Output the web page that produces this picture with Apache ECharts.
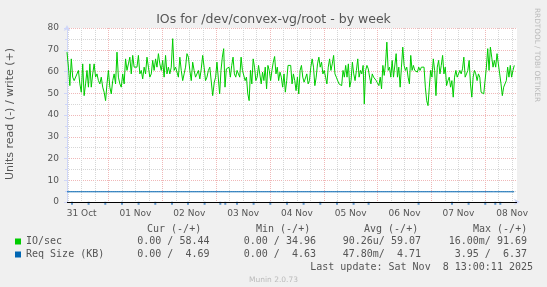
<!DOCTYPE html>
<html><head><meta charset="utf-8">
<script src="https://cdn.jsdelivr.net/npm/echarts@6/dist/echarts.min.js"></script>
<style>html,body{margin:0;padding:0;background:#F0F0F0}#c{width:547px;height:287px}</style>
</head><body><div id="c"></div>
<script>
// ---- data (hours since 31 Oct 00:00) ----
const X_MIN = 5.45, X_MAX = 206.15;
const dayLabels = ['31 Oct','01 Nov','02 Nov','03 Nov','04 Nov','05 Nov','06 Nov','07 Nov','08 Nov'];
const labelHours = [12,36,60,84,108,132,156,180,204];
const midnightHours = [24,48,72,96,120,144,168,192];
const minorGridHours = [6,12,18,24,30,36,42,48,54,60,66,72,78,84,90,96,102,108,114,120,126,132,138,144,150,156,162,168,174,180,186,192,198,204];

// IO/sec write, three stretches with their start hour and sample step
const segStart = [5.45, 71.14, 138.04];
const segStep = [0.637, 0.598, 0.592];
const ioWriteA = [68.9,62.0,53.5,65.8,57.4,55.8,55.4,58.9,60.5,54.3,50.5,63.5,48.9,54.3,60.5,52.8,63.5,52.8,58.9,63.5,57.4,58.9,55.8,54.3,57.4,52.8,50.5,46.6,54.3,60.5,52.8,49.7,55.8,58.9,54.3,68.9,57.4,54.3,52.8,58.9,54.3,65.8,60.5,63.5,66.6,58.9,67.4,62.0,62.8,62.0,67.4,58.9,60.5,56.6,62.0,58.9,66.6,62.0,57.4,58.9,65.1,60.5,65.8,62.0,68.2,63.5,60.5,65.1,57.4,67.4,58.9,62.0,58.9,62.0,75.1,60.5,62.0,62.8,57.4,66.6,60.5,55.8,58.9,62.0,68.2,66.6,60.5,55.8,64.3,60.5,57.4,58.9,60.5,56.6,61.2,67.4,62.0,55.8,57.4,60.5,62.0,61.2,48.9];
const ioWriteB = [55.1,57.4,64.3,64.3,49.7,60.5,66.6,70.5,52.8,61.2,60.5,62.0,57.4,62.8,66.6,58.9,57.4,60.5,58.9,57.4,66.6,60.5,61.2,55.8,57.4,49.7,46.6,60.5,54.3,65.8,62.0,55.8,57.4,62.8,62.0,54.3,59.7,55.8,62.0,52.0,62.8,60.5,55.8,60.5,64.3,66.9,58.9,62.0,55.8,59.7,57.4,52.8,58.9,50.5,55.8,62.8,62.8,62.8,54.3,58.9,55.8,51.2,57.4,49.7,60.5,62.8,57.4,55.1,55.8,58.9,54.3,55.8,62.0,65.8,62.0,53.5,57.4,63.5,66.6,62.0,64.3,58.9,60.5,57.4,54.3,62.0,65.8,60.5,63.5,67.4,58.9,57.4,58.2,54.3,53.5,53.5,60.5,57.4,62.8,57.4,63.5,52.8,55.8,64.3,58.9,55.8,60.5,65.8,57.4,60.5,58.9,62.8];
const ioWriteC = [45.1,60.5,62.8,61.2,57.4,54.3,58.9,57.4,57.4,55.8,56.6,53.5,57.4,52.0,62.8,58.2,63.5,73.5,60.5,62.0,57.4,65.1,57.4,56.6,68.2,57.4,62.0,52.8,62.0,71.2,62.8,60.5,62.0,57.4,54.3,67.4,60.5,62.8,60.5,61.2,59.7,62.0,60.5,62.0,62.8,62.0,52.8,46.6,44.3,52.8,60.5,57.4,65.8,60.5,48.9,62.0,65.1,58.9,62.8,67.4,58.9,62.0,53.5,55.8,57.4,52.8,55.8,48.2,57.4,60.5,57.4,58.9,60.5,58.9,61.2,66.6,57.4,58.9,60.5,65.1,54.3,48.2,57.4,60.5,58.9,55.8,58.9,57.4,50.5,49.7,49.7,50.5,62.0,70.5,60.5,71.2,66.6,62.0,65.1,62.0,68.2,63.5,58.9,54.3,48.9,52.8,52.8,55.8,62.0,57.4,62.8,57.4,60.5,62.8];

// Req Size (KB) write
const reqWriteHours = [5.45, 99.0, 99.8, 100.6, 171.9, 172.7, 173.5, 195.7, 196.5, 197.3, 204.9];
const reqWriteVals  = [4.70, 4.70, 5.25, 4.70, 4.70, 5.20, 4.70, 4.70, 5.30, 4.70, 4.69];
// Req Size (KB) read (negative side) small spikes
const reqReadHours = [7.68,15.08,22.53,29.98,37.38,44.83,52.28,59.41,66.82,73.82,76.05,81.27,88.67,96.12,103.57,110.97,118.42,125.87,133.27,139.96,162.26,177.16,184.56,192.0,196.47,198.7];
const reqReadVals = reqReadHours.map(() => -0.6);

const statHeaders = ['Cur (-/+)','Min (-/+)','Avg (-/+)','Max (-/+)'];
const ioStats  = ['0.00 / 58.44','0.00 / 34.96','90.26u/ 59.07','16.00m/ 91.69'];
const reqStats = ['0.00 /  4.69','0.00 /  4.63','47.80m/  4.71','3.95 /  6.37'];
const lastUpdate = 'Last update: Sat Nov  8 13:00:11 2025';

// ---- build ----
const ioData = [];
[ioWriteA, ioWriteB, ioWriteC].forEach((arr, s) => arr.forEach((v, i) => ioData.push([segStart[s] + i * segStep[s], v])));
const reqWriteData = reqWriteHours.map((h, i) => [h, reqWriteVals[i]]);
const reqReadData = reqReadHours.map((h, i) => [h, reqReadVals[i]]);

const FONT = '#555555';
const AXIS = '#CFD6F8';
const MONO = '"DejaVu Sans Mono", monospace';
const SANS = '"DejaVu Sans", sans-serif';
const MGRID = '#F0B8B8';
const GRID = '#D6D6D6';

const headerX = [147, 256, 364, 473];
const valueRight = [209.5, 316, 421, 527];
const graphics = [];
statHeaders.forEach((t, i) => graphics.push({type:'text', x: headerX[i], y: 229.5, style:{text:t, font:'10px '+MONO, fill:FONT, align:'left', verticalAlign:'middle'}}));
ioStats.forEach((t, i) => graphics.push({type:'text', x: valueRight[i], y: 241.7, style:{text:t, font:'10px '+MONO, fill:FONT, align:'right', verticalAlign:'middle'}}));
reqStats.forEach((t, i) => graphics.push({type:'text', x: valueRight[i], y: 254.7, style:{text:t, font:'10px '+MONO, fill:FONT, align:'right', verticalAlign:'middle'}}));
graphics.push({type:'text', x: 533, y: 267.2, style:{text:lastUpdate, font:'10px '+MONO, fill:FONT, align:'right', verticalAlign:'middle'}});
graphics.push({type:'text', x: 273.5, y: 280, style:{text:'Munin 2.0.73', font:'7.5px '+SANS, fill:'#BBBBBB', align:'center', verticalAlign:'middle'}});
graphics.push({type:'text', x: 10, y: 114, rotation: Math.PI/2, style:{text:'Units read (-) / write (+)', font:'11px '+SANS, fill:FONT, align:'center', verticalAlign:'middle'}});
graphics.push({type:'text', x: 537, y: 55, rotation: -Math.PI/2, style:{text:'RRDTOOL / TOBI OETIKER', font:'7.3px '+SANS, fill:'#BBBBBB', align:'center', verticalAlign:'middle'}});

const baseX = {type:'value', min:X_MIN, max:X_MAX, position:'bottom', gridIndex:0};
const chart = echarts.init(document.getElementById('c'), null, {renderer:'canvas'});
chart.setOption({
  animation: false,
  backgroundColor: '#F0F0F0',
  title: {text:'IOs for /dev/convex-vg/root - by week', left:'center', top:13, padding:0, textStyle:{fontFamily:SANS, fontSize:12.5, fontWeight:'normal', color:FONT}},
  grid: {left:67, top:28, width:450, height:174, show:true, backgroundColor:'#FFFFFF', borderWidth:0},
  legend: {orient:'vertical', left:15, top:236.5, padding:0, itemWidth:6, itemHeight:6, itemGap:3, icon:'rect', selectedMode:false,
    data:['IO/sec','Req Size (KB)'], textStyle:{fontFamily:MONO, fontSize:10, color:FONT}},
  xAxis: [
    Object.assign({}, baseX, {axisLine:{show:false}, axisTick:{show:false, customValues:minorGridHours}, axisLabel:{show:false},
      splitLine:{show:true, lineStyle:{color:GRID, type:[1,1], width:1}}}),
    Object.assign({}, baseX, {axisLine:{show:false}, axisTick:{show:false, customValues:midnightHours}, axisLabel:{show:false},
      splitLine:{show:true, lineStyle:{color:MGRID, type:[1,1], width:1}}}),
    Object.assign({}, baseX, {axisLine:{show:true, onZero:false, lineStyle:{color:AXIS}, symbol:['none','arrow'], symbolSize:[5,6], symbolOffset:[0,3]},
      axisTick:{show:false, customValues:labelHours},
      axisLabel:{show:true, customValues:labelHours, margin:7, color:FONT, fontFamily:SANS, fontSize:9,
        formatter: v => dayLabels[labelHours.indexOf(Math.round(v))]},
      splitLine:{show:false}})
  ],
  yAxis: {type:'value', min:0, max:80, interval:10,
    axisLine:{show:true, lineStyle:{color:AXIS}, symbol:['none','arrow'], symbolSize:[5,6], symbolOffset:[0,3]},
    axisTick:{show:true, length:3, lineStyle:{color:AXIS}},
    minorTick:{show:true, splitNumber:2, length:2, lineStyle:{color:AXIS}},
    axisLabel:{margin:8, color:FONT, fontFamily:SANS, fontSize:9},
    splitLine:{show:true, lineStyle:{color:MGRID, type:[1,1], width:1}},
    minorSplitLine:{show:true, lineStyle:{color:GRID, type:[1,1], width:1}}},
  graphic: graphics,
  series: [
    {name:'IO/sec', type:'line', xAxisIndex:0, data:ioData, color:'#00CC00', symbol:'none', showSymbol:false,
      lineStyle:{width:1, color:'#00CC00'}, z:3,
      markLine:{silent:true, symbol:['none','none'], label:{show:false}, lineStyle:{color:'#000000', width:1, type:'solid'}, data:[{yAxis:0}], animation:false}},
    {name:'Req Size (KB)', type:'line', xAxisIndex:0, data:reqWriteData, color:'#0066B3', symbol:'none', showSymbol:false,
      lineStyle:{width:1, color:'#0066B3'}, z:2},
    {name:'Req Size (KB)', type:'scatter', xAxisIndex:0, data:reqReadData, color:'#3A7FC4', symbol:'rect', symbolSize:[2,3], clip:false, z:4}
  ]
});
</script></body></html>
